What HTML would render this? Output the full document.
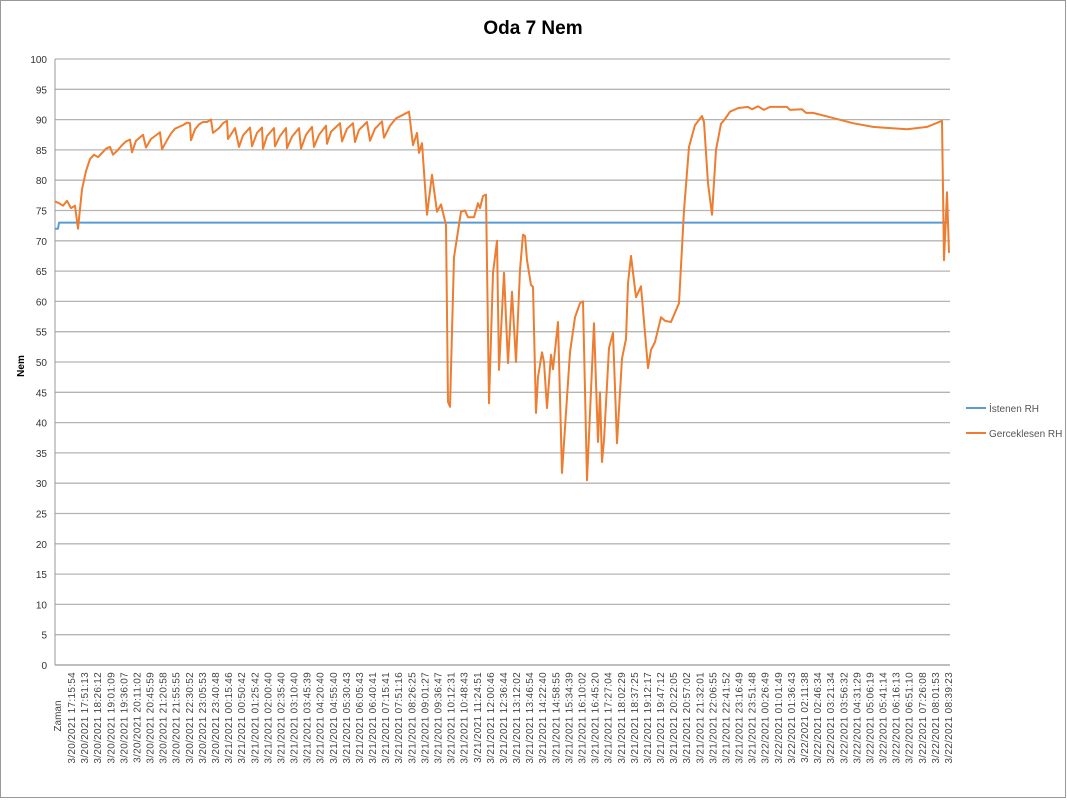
<!DOCTYPE html>
<html><head><meta charset="utf-8"><style>
html,body{margin:0;padding:0;background:#fff;}
svg{display:block;font-family:"Liberation Sans",sans-serif;}
</style></head><body>
<svg id="chart" width="1067" height="800">
<rect x="0.5" y="0.5" width="1065" height="797" fill="#fff" stroke="#999"/>
<text x="533" y="34" text-anchor="middle" font-size="19" font-weight="bold" fill="#000">Oda 7 Nem</text>
<text transform="translate(24,366) rotate(-90)" text-anchor="middle" font-size="10" font-weight="bold" fill="#000">Nem</text>
<g id="grid"></g><g id="yt"></g><g id="xt"></g><g id="series"></g>
<g>
<line x1="966" y1="408" x2="986" y2="408" stroke="#5b9bd5" stroke-width="2"/>
<text x="989" y="412" font-size="10" fill="#555">İstenen RH</text>
<line x1="966" y1="433" x2="986" y2="433" stroke="#ed7d31" stroke-width="2"/>
<text x="989" y="437" font-size="10" fill="#555">Gerceklesen RH</text>
</g>
</svg>
<script>
const yTicks=[0,5,10,15,20,25,30,35,40,45,50,55,60,65,70,75,80,85,90,95,100];
const xLabels=["3/20/2021 17:15:54","3/20/2021 17:51:13","3/20/2021 18:26:12","3/20/2021 19:01:09","3/20/2021 19:36:07","3/20/2021 20:11:02","3/20/2021 20:45:59","3/20/2021 21:20:58","3/20/2021 21:55:55","3/20/2021 22:30:52","3/20/2021 23:05:53","3/20/2021 23:40:48","3/21/2021 00:15:46","3/21/2021 00:50:42","3/21/2021 01:25:42","3/21/2021 02:00:40","3/21/2021 02:35:40","3/21/2021 03:10:40","3/21/2021 03:45:39","3/21/2021 04:20:40","3/21/2021 04:55:40","3/21/2021 05:30:43","3/21/2021 06:05:43","3/21/2021 06:40:41","3/21/2021 07:15:41","3/21/2021 07:51:16","3/21/2021 08:26:25","3/21/2021 09:01:27","3/21/2021 09:36:47","3/21/2021 10:12:31","3/21/2021 10:48:43","3/21/2021 11:24:51","3/21/2021 12:00:46","3/21/2021 12:36:44","3/21/2021 13:12:02","3/21/2021 13:46:54","3/21/2021 14:22:40","3/21/2021 14:58:55","3/21/2021 15:34:39","3/21/2021 16:10:02","3/21/2021 16:45:20","3/21/2021 17:27:04","3/21/2021 18:02:29","3/21/2021 18:37:25","3/21/2021 19:12:17","3/21/2021 19:47:12","3/21/2021 20:22:05","3/21/2021 20:57:02","3/21/2021 21:32:01","3/21/2021 22:06:55","3/21/2021 22:41:52","3/21/2021 23:16:49","3/21/2021 23:51:48","3/22/2021 00:26:49","3/22/2021 01:01:49","3/22/2021 01:36:43","3/22/2021 02:11:38","3/22/2021 02:46:34","3/22/2021 03:21:34","3/22/2021 03:56:32","3/22/2021 04:31:29","3/22/2021 05:06:19","3/22/2021 05:41:14","3/22/2021 06:16:13","3/22/2021 06:51:10","3/22/2021 07:26:08","3/22/2021 08:01:53","3/22/2021 08:39:23"];
const totalSamples=894;
const setIdx=[0,3,4,894];
const setVal=[72,72,73,73];
const rhIdx=[0,4,8,12,16,20,23,27,31,35,39,43,47,51,55,58,63,67,71,75,77,81,88,91,96,100,105,107,112,116,120,124,128,132,135,136,140,144,148,152,156,158,164,168,172,173,180,184,188,195,197,202,207,208,212,219,220,225,231,232,237,244,246,251,257,259,264,271,272,276,285,287,292,298,300,304,312,315,320,327,329,335,341,348,354,358,362,364,367,372,377,382,386,391,393,395,399,406,410,413,419,423,425,428,431,434,438,442,444,449,453,457,461,465,468,470,472,476,478,481,483,487,489,492,496,498,503,507,515,520,525,528,532,539,543,545,547,549,554,558,562,567,571,573,576,581,586,593,596,600,606,610,616,624,629,634,640,647,649,653,657,661,666,670,675,683,693,697,703,709,715,732,735,747,751,758,775,798,818,852,872,887,889,892,894];
const rhVal=[76.5,76.2,75.8,76.6,75.4,75.8,72,78.5,81.5,83.5,84.2,83.8,84.5,85.2,85.5,84.2,85,85.8,86.4,86.7,84.6,86.5,87.5,85.4,86.8,87.3,87.9,85.1,86.6,87.7,88.5,88.8,89.1,89.5,89.4,86.6,88.4,89.2,89.6,89.6,90,87.8,88.6,89.4,89.8,86.8,88.6,85.5,87.4,88.7,85.6,87.8,88.7,85.2,87.3,88.6,85.6,87.3,88.6,85.3,87.2,88.6,85.2,87.5,88.8,85.5,87.5,89,86,88,89.4,86.4,88.5,89.4,86.3,88.3,89.6,86.5,88.5,89.7,87,89,90.2,90.8,91.3,85.8,87.8,84.5,86.1,74.3,80.9,74.8,76,72.6,43.4,42.6,67.3,74.8,75,73.9,73.9,76.2,75.4,77.4,77.6,43.2,64.7,70,48.7,64.7,49.8,61.6,50,65.2,71,70.8,66.8,62.7,62.4,41.6,47.5,51.6,50,42.4,51.2,48.8,56.6,31.7,51.6,57.4,59.7,60,30.5,56.4,36.8,45,33.5,37.1,52.3,54.8,36.6,50.6,53.8,63,67.5,60.7,62.5,49,52,53.3,57.4,56.8,56.6,59.7,75,85.5,89.1,90.6,89.6,79.5,74.3,85,89.3,90.1,91.3,91.9,92.1,91.7,92.2,91.6,92.1,92.1,91.6,91.7,91.1,91.1,90.4,89.4,88.8,88.4,88.8,89.8,66.8,78,68];
const X0=55,X1=949,Y0=665,Y1=59;
function xs(i){return X0+(X1-X0)*i/totalSamples;}
function ys(v){return Y0-(Y0-Y1)*v/100;}
const NS="http://www.w3.org/2000/svg";
function mk(t,a,p){const e=document.createElementNS(NS,t);for(const k in a)e.setAttribute(k,a[k]);p.appendChild(e);return e;}
const grid=document.getElementById('grid'),yt=document.getElementById('yt'),xt=document.getElementById('xt'),ser=document.getElementById('series');
yTicks.forEach(v=>{
  const l=mk('line',{x1:X0,x2:X1+1,y1:ys(v),y2:ys(v),stroke:v===0?'#999':'#b4b4b4','stroke-width':1.3},grid);
  
  
  const t=mk('text',{x:47,y:ys(v)+4,'text-anchor':'end','font-size':10,fill:'#333'},yt);
  t.textContent=v;
  
  
});
const ax=mk('line',{x1:X0,x2:X0,y1:Y1,y2:Y0,stroke:'#999','stroke-width':1},grid);


const z=mk('text',{transform:'translate(61,716) rotate(-90)','text-anchor':'middle','font-size':10,fill:'#444'},xt);
z.textContent='Zaman';


const step=(948-71)/(xLabels.length-1);
xLabels.forEach((s,i)=>{
  const x=71+i*step;
  const t=mk('text',{transform:`translate(${x+4},672) rotate(-90)`,'text-anchor':'end','font-size':10,fill:'#444','letter-spacing':'0.3'},xt);
  t.textContent=s;
  
  
});
function path(idx,val,color,name){
  const d=idx.map((k,i)=>(i?'L':'M')+xs(k).toFixed(1)+' '+ys(val[i]).toFixed(1)).join(' ');
  const p=mk('path',{d:d,fill:'none',stroke:color,'stroke-width':2,'stroke-linejoin':'round'},ser);
  
  
}
path(setIdx,setVal,'#5b9bd5','line-istenen-rh');
path(rhIdx,rhVal,'#ed7d31','line-gerceklesen-rh');
</script>
</body></html>
